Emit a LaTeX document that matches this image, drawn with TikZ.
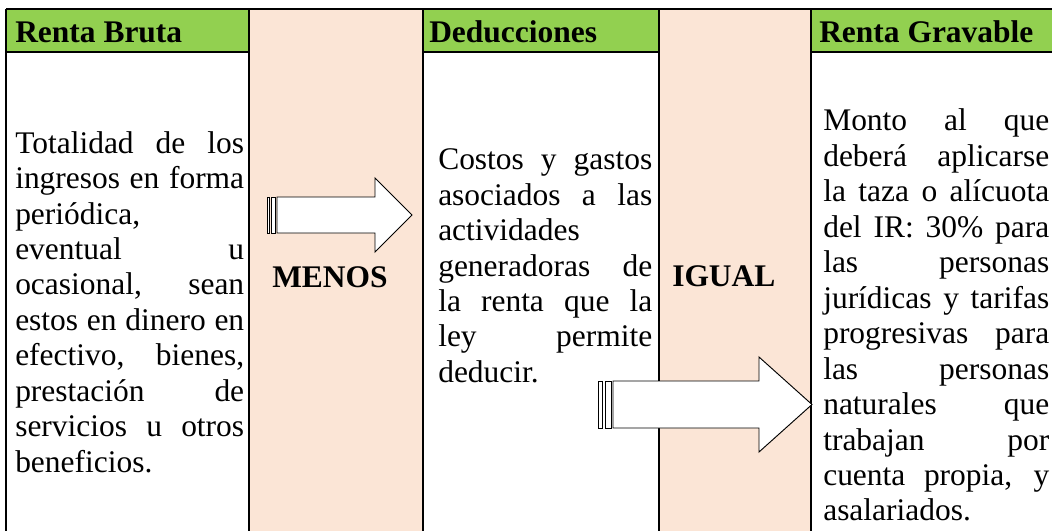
\documentclass[tikz,border=0pt]{standalone}
\usepackage{fontspec}
\setmainfont{Liberation Serif}
\definecolor{verde}{HTML}{92D050}
\definecolor{durazno}{HTML}{FBE5D6}
\tolerance=10000
\hbadness=10000
\tikzset{
  titulo/.style={anchor=base west, inner sep=0pt, font=\fontsize{23.6}{26.6}\selectfont\bfseries},
  texto/.style={anchor=north west, inner sep=0pt, text width=#1, align=justify, font=\fontsize{23.6}{26.6}\selectfont},
  borde/.style={line width=1.6pt},
  flecha/.style={draw=black, line width=0.7pt, fill=white}
}
\begin{document}
\begin{tikzpicture}[x=0.75pt,y=-0.75pt]
\useasboundingbox (0,0) rectangle (1052,531);
\clip (0,0) rectangle (1052,531);
% FONDOS
\fill[verde] (6,9) rectangle (249,52);
\fill[verde] (423,9) rectangle (659,52);
\fill[verde] (811,9) rectangle (1060,52);
\fill[durazno] (249,9) rectangle (423,540);
\fill[durazno] (659,9) rectangle (811,540);
% BORDES
\draw[borde] (6,9) -- (1060,9);
\foreach \x in {6,249,423,659,811}
  \draw[borde] (\x,9) -- (\x,540);
\draw[borde] (6,52) -- (249,52);
\draw[borde] (423,52) -- (659,52);
\draw[borde] (811,52) -- (1060,52);
% TITULOS
\node[titulo] (bruta) at (15,43) {Renta Bruta};
\node[titulo] (deduc) at (429,43) {Deducciones};
\node[titulo] (grav) at (819,43) {Renta Gravable};
\node[titulo] (menos) at (272,287) {MENOS};
\node[titulo] (igual) at (672,286) {IGUAL};
% TEXTOS
\node[texto=171.7pt] (txtbruta) at (15,131) {Totalidad de los\linebreak ingresos en forma\linebreak periódica,\linebreak eventual u\linebreak ocasional, sean\linebreak estos en dinero en\linebreak efectivo, bienes,\linebreak prestación de\linebreak servicios u otros\linebreak beneficios.};
\node[texto=160.5pt] (txtdeduc) at (438,148.5) {Costos y gastos\linebreak asociados a las\linebreak actividades\linebreak generadoras de\linebreak la renta que la\linebreak ley permite\linebreak deducir.};
\node[texto=169.5pt] (txtgrav) at (823,108.7) {Monto al que\linebreak deberá aplicarse\linebreak la taza o alícuota\linebreak del IR: 30\% para\linebreak las personas\linebreak jurídicas y tarifas\linebreak progresivas para\linebreak las personas\linebreak naturales que\linebreak trabajan por\linebreak cuenta propia, y\linebreak asalariados.};
% FLECHAS
\draw[flecha] (277,197) -- (375,197) -- (375,178) -- (412,215) -- (375,252) -- (375,233) -- (277,233) -- cycle;
\draw[flecha] (267,197) rectangle (269.5,233);
\draw[flecha] (271,197) rectangle (275,233);
\draw[flecha] (613,381) -- (759,381) -- (759,357) -- (812,404.5) -- (759,452) -- (759,428) -- (613,428) -- cycle;
\draw[flecha] (598,381) rectangle (602,428);
\draw[flecha] (605,381) rectangle (611,428);
\end{tikzpicture}
\end{document}
